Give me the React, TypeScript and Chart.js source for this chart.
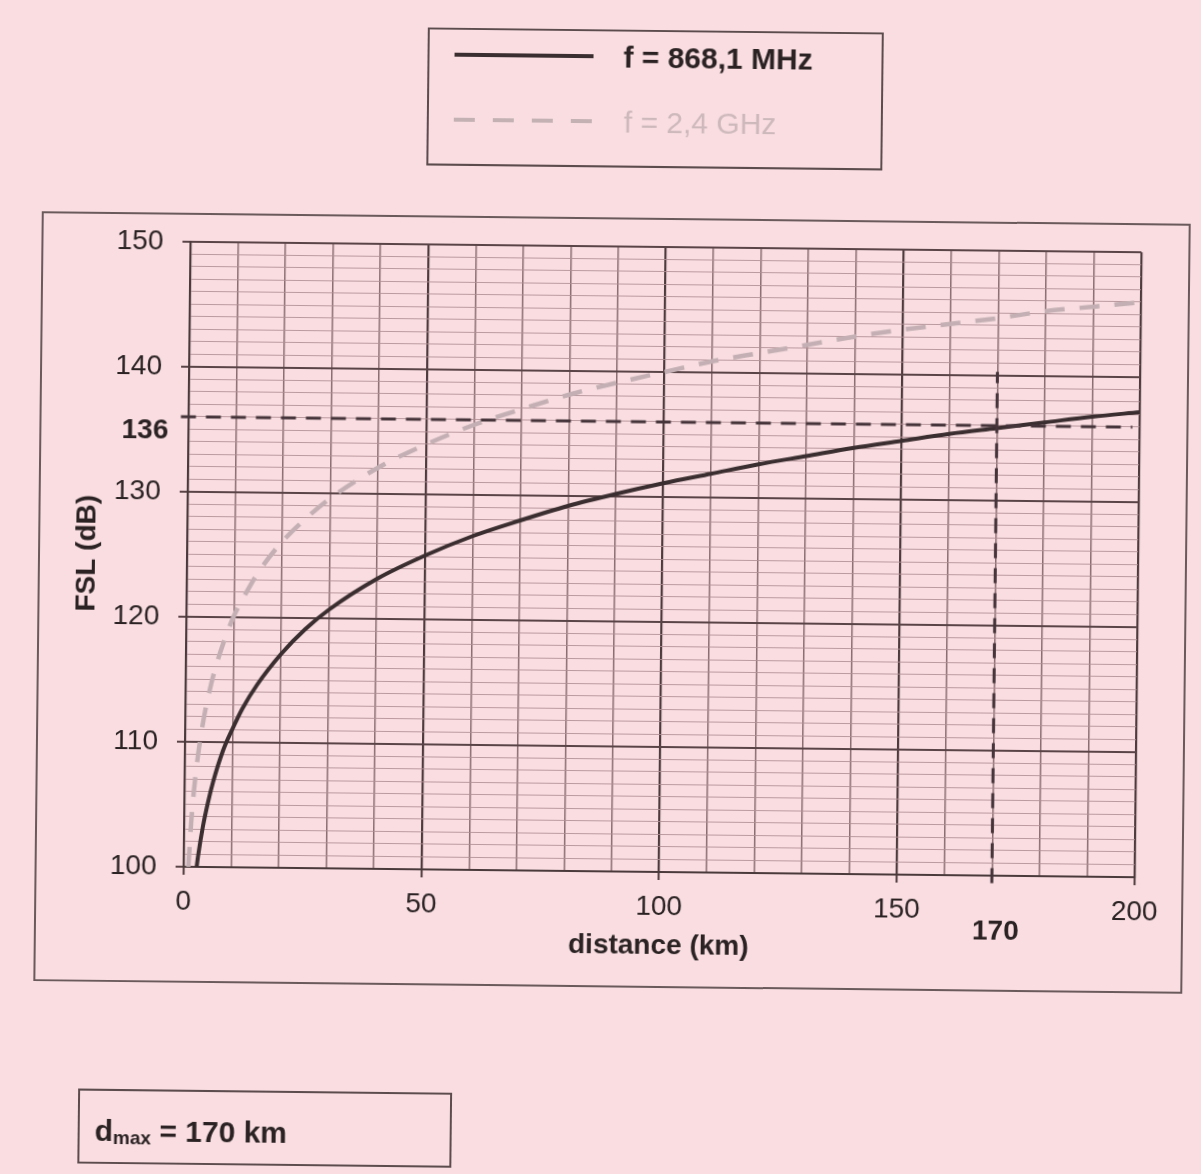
import React, { useEffect, useRef } from "react";
import { Chart, registerables } from "chart.js";

Chart.register(...registerables);

// Distance (km) and free-space loss (dB)
const DIST_868 = [2.75, 3, 4, 5, 6, 8, 10, 12, 15, 20, 25, 30, 40, 50, 60, 70, 80, 90, 100, 110, 120, 130, 140, 150, 160, 170, 180, 190, 200];
const FSL_868 = [100.0, 100.8, 103.3, 105.2, 106.8, 109.3, 111.1, 112.7, 114.6, 117.1, 119.1, 120.7, 123.2, 125.1, 126.7, 128.0, 129.2, 130.2, 131.1, 131.9, 132.7, 133.4, 134.1, 134.7, 135.3, 135.8, 136.3, 136.8, 137.2];

const DIST_24 = [1, 1.5, 2, 2.5, 3, 4, 5, 6, 8, 10, 12, 15, 20, 25, 30, 40, 50, 60, 70, 80, 90, 100, 110, 120, 130, 140, 150, 160, 170, 180, 190, 200];
const FSL_24 = [100.0, 103.6, 106.1, 108.0, 109.6, 112.1, 114.0, 115.6, 118.1, 120.1, 121.6, 123.6, 126.1, 128.0, 129.6, 132.1, 134.0, 135.6, 136.9, 138.1, 139.1, 140.0, 140.9, 141.6, 142.3, 143.0, 143.6, 144.1, 144.6, 145.2, 145.6, 146.0];

// Reference values
const FSL_LIMIT = 136;
const D_MAX = 170;
const LIMIT_LINE_X = [-1.6, 198.5];
const DMAX_LINE_Y = [99.4, 140.3];

// Axis settings
const X_MIN = 0;
const X_MAX = 200;
const X_STEP = 10;
const X_LABEL_EVERY = 50;
const Y_MIN = 100;
const Y_MAX = 150;
const Y_STEP = 1;
const Y_LABEL_EVERY = 10;

const INK = "#2a2223";
const FONT = '"Liberation Sans", Arial, Helvetica, sans-serif';

function zip(xs: number[], ys: number[]) {
  return xs.map((x, i) => ({ x, y: ys[i] }));
}

const extraLabels = {
  id: "extraLabels",
  afterDraw(chart: any) {
    const { ctx, chartArea, scales } = chart;
    const x = scales.x;
    const y = scales.y;
    ctx.save();
    ctx.fillStyle = INK;
    ctx.font = `bold 28px ${FONT}`;
    ctx.textBaseline = "middle";
    ctx.textAlign = "right";
    ctx.fillText(String(FSL_LIMIT), chartArea.left - 20, y.getPixelForValue(FSL_LIMIT) + 14);
    ctx.textAlign = "center";
    ctx.fillText(String(D_MAX), x.getPixelForValue(D_MAX) + 4, chartArea.bottom + 56);
    ctx.restore();
  },
};

export default function App() {
  const canvasRef = useRef<HTMLCanvasElement | null>(null);

  useEffect(() => {
    if (!canvasRef.current) return;
    const chart = new Chart(canvasRef.current, {
      type: "line",
      data: {
        datasets: [
          {
            label: "f = 2,4 GHz",
            data: zip(DIST_24, FSL_24),
            borderColor: "rgb(196,176,180)",
            borderWidth: 4.5,
            borderDash: [20, 15],
            pointRadius: 0,
            cubicInterpolationMode: "monotone",
            fill: false,
            order: 4,
          },
          {
            label: "f = 868,1 MHz",
            data: zip(DIST_868, FSL_868),
            borderColor: "#3b2e30",
            borderWidth: 4,
            pointRadius: 0,
            cubicInterpolationMode: "monotone",
            fill: false,
            order: 3,
          },
          {
            label: "FSL limit",
            data: LIMIT_LINE_X.map((x) => ({ x, y: FSL_LIMIT })),
            borderColor: "#45343a",
            borderWidth: 3,
            borderDash: [15, 10],
            pointRadius: 0,
            fill: false,
            clip: false as any,
            order: 1,
          },
          {
            label: "dmax",
            data: DMAX_LINE_Y.map((y) => ({ x: D_MAX, y })),
            borderColor: "#45343a",
            borderWidth: 3,
            borderDash: [15, 10],
            pointRadius: 0,
            fill: false,
            clip: false as any,
            order: 2,
          },
        ],
      },
      options: {
        responsive: false,
        maintainAspectRatio: false,
        animation: false,
        events: [],
        layout: { padding: { left: 0, top: 247, right: 63, bottom: 0 } },
        plugins: { legend: { display: false }, tooltip: { enabled: false } },
        scales: {
          x: {
            type: "linear",
            min: X_MIN,
            max: X_MAX,
            afterFit: (s: any) => {
              s.height = 302;
            },
            ticks: {
              stepSize: X_STEP,
              maxTicksLimit: 1000,
              autoSkip: false,
              maxRotation: 0,
              minRotation: 0,
              padding: 10,
              color: INK,
              font: { family: FONT, size: 28 },
              callback: (v: any) => (Number(v) % X_LABEL_EVERY === 0 ? String(v) : ""),
            },
            grid: {
              color: (c: any) => (c.tick && c.tick.value % X_LABEL_EVERY === 0 ? "#4e3b3e" : "#8a6d71"),
              lineWidth: (c: any) => (c.tick && c.tick.value % X_LABEL_EVERY === 0 ? 2.2 : 1.5),
              tickLength: 8,
              tickColor: (c: any) => (c.tick && c.tick.value % X_LABEL_EVERY === 0 ? "#4e3b3e" : "rgba(0,0,0,0)"),
              tickWidth: 2,
            },
            border: { display: true, color: "#4a3a3c", width: 2 },
            title: {
              display: true,
              text: "distance (km)",
              color: INK,
              font: { family: FONT, size: 28, weight: "bold" },
              padding: { top: 0, bottom: 211 },
            },
          },
          y: {
            type: "linear",
            min: Y_MIN,
            max: Y_MAX,
            afterFit: (s: any) => {
              s.width = 187;
            },
            ticks: {
              stepSize: Y_STEP,
              maxTicksLimit: 1000,
              autoSkip: false,
              padding: 19,
              color: INK,
              font: { family: FONT, size: 28 },
              callback: (v: any) => (Number(v) % Y_LABEL_EVERY === 0 ? String(v) : ""),
            },
            grid: {
              color: (c: any) => (c.tick && c.tick.value % Y_LABEL_EVERY === 0 ? "#5a4447" : "rgba(176,142,147,0.85)"),
              lineWidth: (c: any) => (c.tick && c.tick.value % Y_LABEL_EVERY === 0 ? 2 : 1.1),
              tickLength: 8,
              tickColor: (c: any) => (c.tick && c.tick.value % Y_LABEL_EVERY === 0 ? "#5a4447" : "rgba(0,0,0,0)"),
              tickWidth: 2,
            },
            border: { display: true, color: "#4a3a3c", width: 2 },
            title: {
              display: true,
              text: "FSL (dB)",
              color: INK,
              font: { family: FONT, size: 28, weight: "bold" },
              padding: { top: 70, bottom: 0 },
            },
          },
        },
      },
      plugins: [extraLabels],
    });
    return () => chart.destroy();
  }, []);

  const boxBorder = "2px solid #5c4c4e";

  return (
    <div
      style={{
        position: "absolute",
        left: 0,
        top: 0,
        width: 1201,
        height: 1174,
        background: "#f9dde1",
        overflow: "hidden",
        fontFamily: FONT,
        color: INK,
      }}
    >
      <div
        style={{
          position: "absolute",
          left: 0,
          top: 0,
          width: 1201,
          height: 1174,
          transform: "rotate(0.63deg)",
          transformOrigin: "662.5px 559.5px",
        }}
      >
        {/* chart frame */}
        <div
          style={{
            position: "absolute",
            left: 38,
            top: 218,
            width: 1149,
            height: 770,
            border: "2px solid #6a5a5c",
            boxSizing: "border-box",
          }}
        />
        <canvas
          ref={canvasRef}
          width={1201}
          height={1174}
          style={{ position: "absolute", left: 0, top: 0, width: 1201, height: 1174, display: "block" }}
        />
        {/* legend */}
        <div
          style={{
            position: "absolute",
            left: 422,
            top: 30,
            width: 456,
            height: 138,
            border: boxBorder,
            boxSizing: "border-box",
          }}
        >
          <div style={{ position: "absolute", left: 25, top: 23, width: 139, height: 4, background: "#3b2e30" }} />
          <div
            style={{
              position: "absolute",
              left: 194,
              top: 11,
              fontSize: 30,
              lineHeight: "30px",
              fontWeight: "bold",
              whiteSpace: "nowrap",
              color: INK,
            }}
          >
            f = 868,1 MHz
          </div>
          <div
            style={{
              position: "absolute",
              left: 25,
              top: 88,
              width: 139,
              height: 4,
              background: "repeating-linear-gradient(90deg, #c4b1b4 0px, #c4b1b4 21px, transparent 21px, transparent 39px)",
            }}
          />
          <div
            style={{
              position: "absolute",
              left: 195,
              top: 76,
              fontSize: 30,
              lineHeight: "30px",
              whiteSpace: "nowrap",
              color: "#cdb8bb",
            }}
          >
            f = 2,4 GHz
          </div>
        </div>
        {/* d_max box */}
        <div
          style={{
            position: "absolute",
            left: 84,
            top: 1095,
            width: 374,
            height: 75,
            border: boxBorder,
            boxSizing: "border-box",
          }}
        >
          <div
            style={{
              position: "absolute",
              left: 15,
              top: 25,
              fontSize: 30,
              lineHeight: "30px",
              fontWeight: "bold",
              whiteSpace: "nowrap",
              color: INK,
            }}
          >
            d<span style={{ fontSize: 19, position: "relative", top: 3 }}>max</span> = 170 km
          </div>
        </div>
      </div>
    </div>
  );
}
